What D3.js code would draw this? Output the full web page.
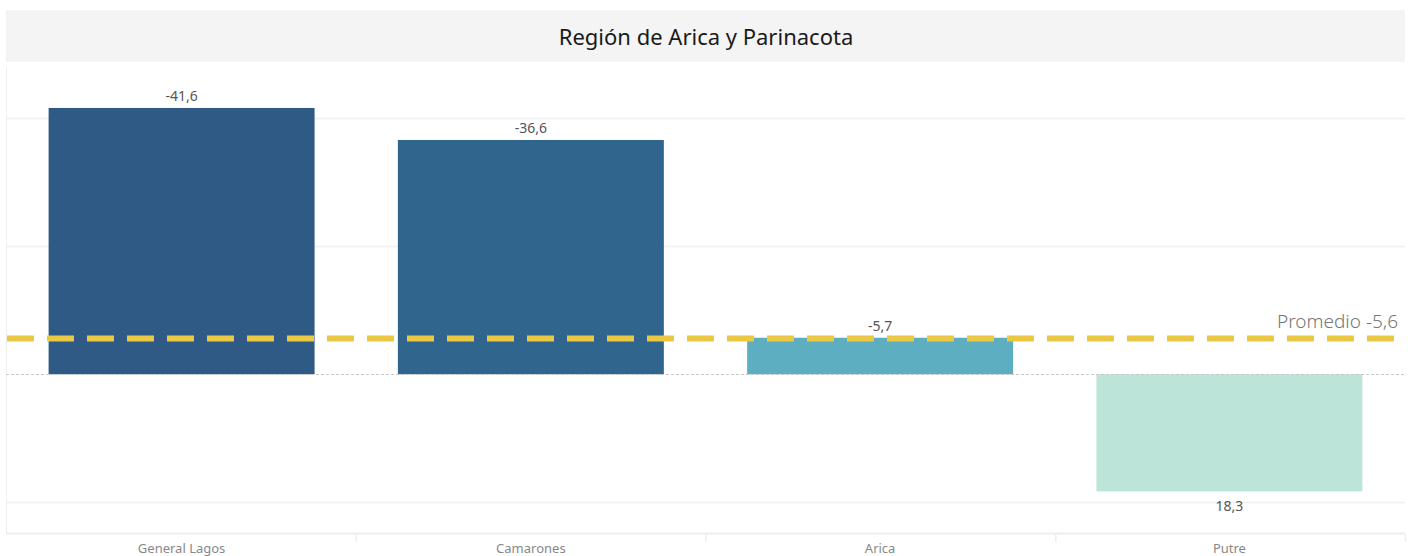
<!DOCTYPE html>
<html>
<head>
<meta charset="utf-8">
<script src="https://cdn.jsdelivr.net/npm/d3@7"></script>
<style>
  body { margin: 0; background: #fff; }
  svg { display: block; font-family: "Noto Sans", "Open Sans", sans-serif; }
</style>
</head>
<body>
<div id="chart"></div>
<script>
const title = "Región de Arica y Parinacota";
const comunas = ["General Lagos", "Camarones", "Arica", "Putre"];
const valores = [-41.6, -36.6, -5.7, 18.3];
const colores = ["#2e5a85", "#30658e", "#5eaec1", "#bde4d9"];
const promedio = -5.6;
const gridValues = [-40, -20, 20];

const width = 1421, height = 556;
const fmt = v => d3.format(".1f")(v).replace(".", ",").replace("\u2212", "-");

const svg = d3.select("#chart").append("svg").attr("width", width).attr("height", height);

// title band
svg.append("rect").attr("x", 6).attr("y", 10).attr("width", 1399).attr("height", 52).attr("fill", "#f4f4f4");
svg.append("text").attr("x", 706).attr("y", 45).attr("text-anchor", "middle")
  .attr("font-size", "22px").attr("fill", "#1a1a1a").text(title);

const paneLeft = 6, paneRight = 1405, paneTop = 67, paneBottom = 533;

const x = d3.scaleBand().domain(comunas).range([paneLeft, paneRight]).paddingInner(0.2385).paddingOuter(0.122);
const bandStep = (paneRight - paneLeft) / comunas.length;
const y = d3.scaleLinear().domain([-48, 24.8]).range([paneTop, paneBottom]);

// pane borders
svg.append("line").attr("x1", paneLeft + 0.5).attr("x2", paneLeft + 0.5).attr("y1", paneTop).attr("y2", paneBottom)
  .attr("stroke", "#eee");
svg.append("line").attr("x1", paneLeft).attr("x2", paneRight).attr("y1", paneBottom + 0.5).attr("y2", paneBottom + 0.5)
  .attr("stroke", "#eee").attr("stroke-width", 2);

// gridlines
svg.append("g").selectAll("line").data(gridValues).join("line")
  .attr("x1", paneLeft).attr("x2", paneRight)
  .attr("y1", d => Math.round(y(d)) + 0.5).attr("y2", d => Math.round(y(d)) + 0.5)
  .attr("stroke", "#f0f0f0").attr("stroke-width", 1.5);

// bars
svg.append("g").selectAll("rect").data(valores).join("rect")
  .attr("x", (d, i) => x(comunas[i]))
  .attr("width", x.bandwidth())
  .attr("y", d => y(Math.min(0, d)))
  .attr("height", d => Math.abs(y(d) - y(0)))
  .attr("fill", (d, i) => colores[i]);

// zero line
svg.append("line").attr("x1", paneLeft).attr("x2", paneRight)
  .attr("y1", Math.round(y(0)) + 0.5).attr("y2", Math.round(y(0)) + 0.5)
  .attr("stroke", "#c8c8c8").attr("stroke-dasharray", "3,2");

// value labels
svg.append("g").selectAll("text").data(valores).join("text")
  .attr("x", (d, i) => x(comunas[i]) + x.bandwidth() / 2)
  .attr("y", d => d < 0 ? y(d) - 7 : y(d) + 20)
  .attr("text-anchor", "middle").attr("font-size", "14px").attr("fill", "#555")
  .text(d => fmt(d));

// average line
svg.append("line").attr("x1", paneLeft + 1).attr("x2", paneRight)
  .attr("y1", y(promedio)).attr("y2", y(promedio))
  .attr("stroke", "#ebc844").attr("stroke-width", 6).attr("stroke-dasharray", "27,13");
svg.append("text").attr("x", 1398).attr("y", y(promedio) - 10).attr("text-anchor", "end")
  .attr("font-size", "19px").attr("font-weight", 300).attr("fill", "#777")
  .text("Promedio " + fmt(promedio));

// x axis dividers and labels
const axisG = svg.append("g");
axisG.selectAll("line").data(comunas).join("line")
  .attr("x1", (d, i) => paneLeft + bandStep * (i + 1) + 0.5)
  .attr("x2", (d, i) => paneLeft + bandStep * (i + 1) + 0.5)
  .attr("y1", paneBottom + 1).attr("y2", paneBottom + 9)
  .attr("stroke", "#eee").attr("stroke-width", 1.5);
axisG.selectAll("text").data(comunas).join("text")
  .attr("x", d => x(d) + x.bandwidth() / 2)
  .attr("y", 553).attr("text-anchor", "middle")
  .attr("font-size", "13px").attr("fill", "#888")
  .text(d => d);
</script>
</body>
</html>
